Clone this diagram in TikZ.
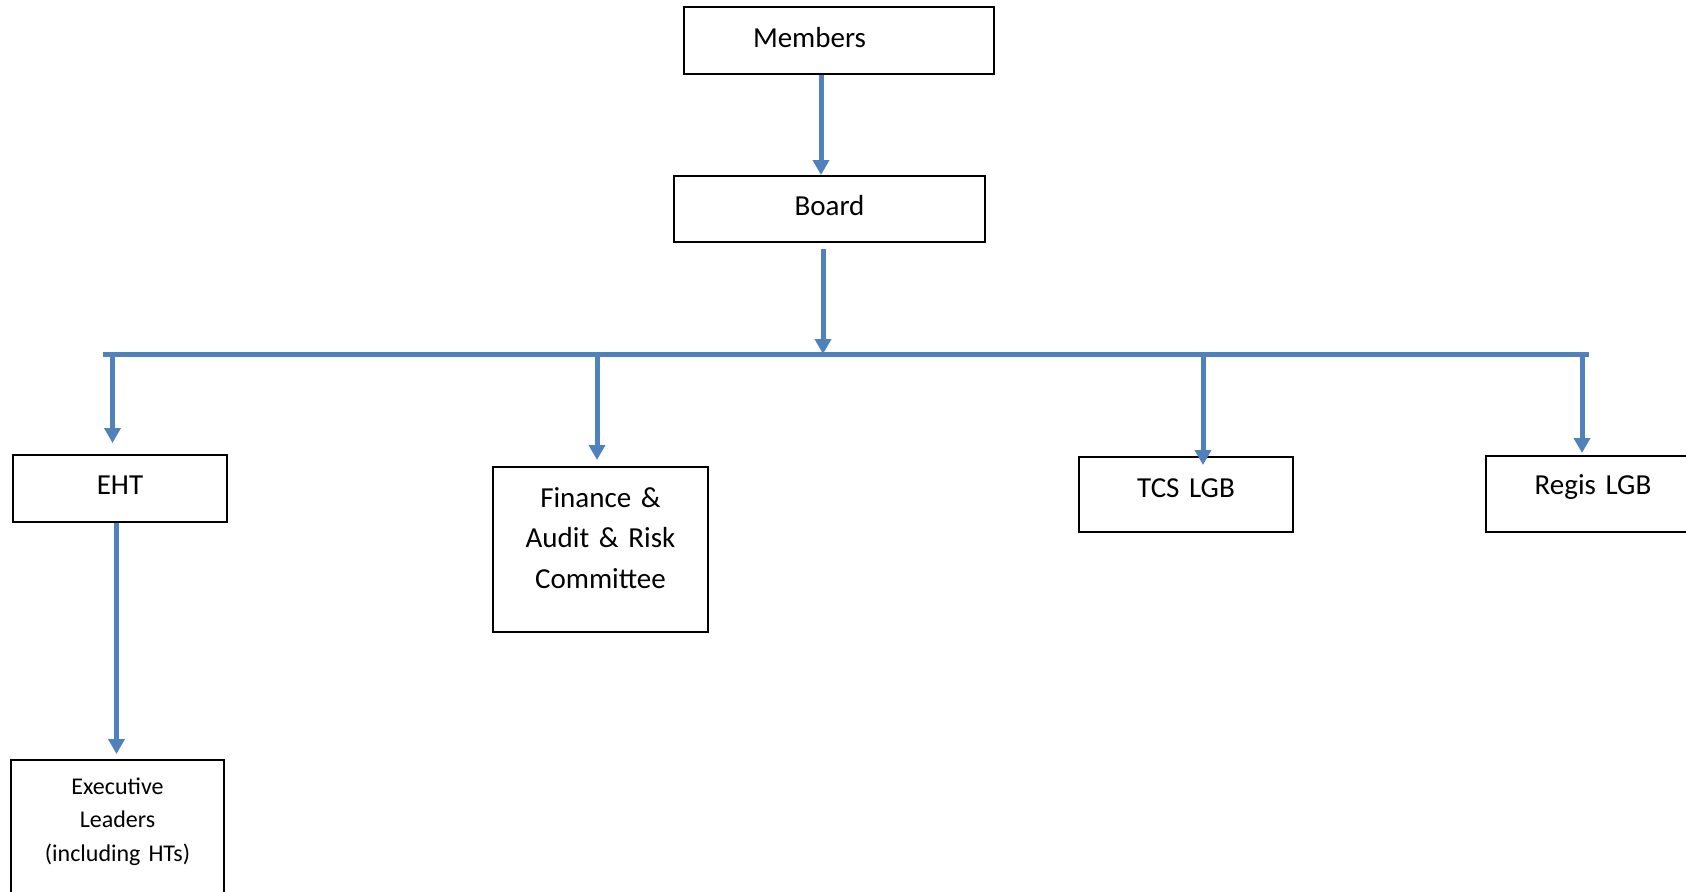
\documentclass[tikz,border=0pt]{standalone}
\usepackage{fontspec}
\setmainfont{Carlito}[WordSpace={1,0,0}]
\usepackage{xcolor}
\usetikzlibrary{positioning, arrows.meta}
\definecolor{linkblue}{RGB}{79,129,189}

\begin{document}
\begin{tikzpicture}[
            x=0.5pt, y=-0.5pt,
            box/.style={rectangle, draw, line width=1pt, inner sep=0pt, align=center, font=\fontsize{14.5}{20.3}\selectfont},
            smallbox/.style={box, font=\fontsize{12}{16.75}\selectfont},
            link/.style={draw=linkblue, line width=2.5pt, -{Triangle[width=8pt, length=7.5pt]}},
            bus/.style={draw=linkblue, line width=2.5pt},
        ]
            \useasboundingbox (0,0) rectangle (1686,891);

            \node[box, text width=86pt, inner xsep=34.5pt, align=left, text height=20pt, text depth=13.5pt] (members) at (839,40.5) {Members};
            \node[box, text width=155.5pt, text height=19.5pt, text depth=13.5pt] (board) at (829.5,209) {Board};

            \node[box, text width=107pt, text height=19.5pt, text depth=14pt] (eht) at (120,488.5) {EHT};
            \node[box, text width=107.5pt, text height=20pt, text depth=62.5pt] (finance) at (600.5,549.5) {Finance \&\\Audit \& Risk\\Committee};
            \node[box, text width=107pt, text height=20pt, text depth=17.5pt] (tcs) at (1186,494.5) {TCS LGB};
            \node[box, text width=107pt, text height=19pt, text depth=19pt] (regis) at (1593,494) {Regis LGB};
            \node[smallbox, text width=106.5pt, text height=17pt, text depth=53pt] (exec) at (117.5,830) {Executive\\Leaders\\(including HTs)};

            \coordinate (busL) at (103,354);
            \coordinate (busR) at (1589,354);
            \coordinate (hub) at (823,354);
            \coordinate (dEHT) at (112.5,357);
            \coordinate (dFinance) at (597,357);
            \coordinate (dTCS) at (1203,357);
            \coordinate (dRegis) at (1582,357);

            \draw[link] ([xshift=-9pt]members.south) -- ([xshift=-9pt]members.south |- board.north);
            \draw[link] ([yshift=-3pt]board.south -| hub) -- (hub);
            \draw[bus] (busL) -- (busR);

            \draw[link, shorten >=5.5pt] (dEHT) -- (dEHT |- eht.north);
            \draw[link, shorten >=3pt] (dFinance) -- (dFinance |- finance.north);
            \draw[link, shorten >=-4.5pt] (dTCS) -- (dTCS |- tcs.north);
            \draw[link, shorten >=1pt] (dRegis) -- (dRegis |- regis.north);

            \draw[link, shorten >=2.5pt] ([xshift=-1.75pt]eht.south) -- ([xshift=-1.75pt]eht.south |- exec.north);
        \end{tikzpicture}
\end{document}
